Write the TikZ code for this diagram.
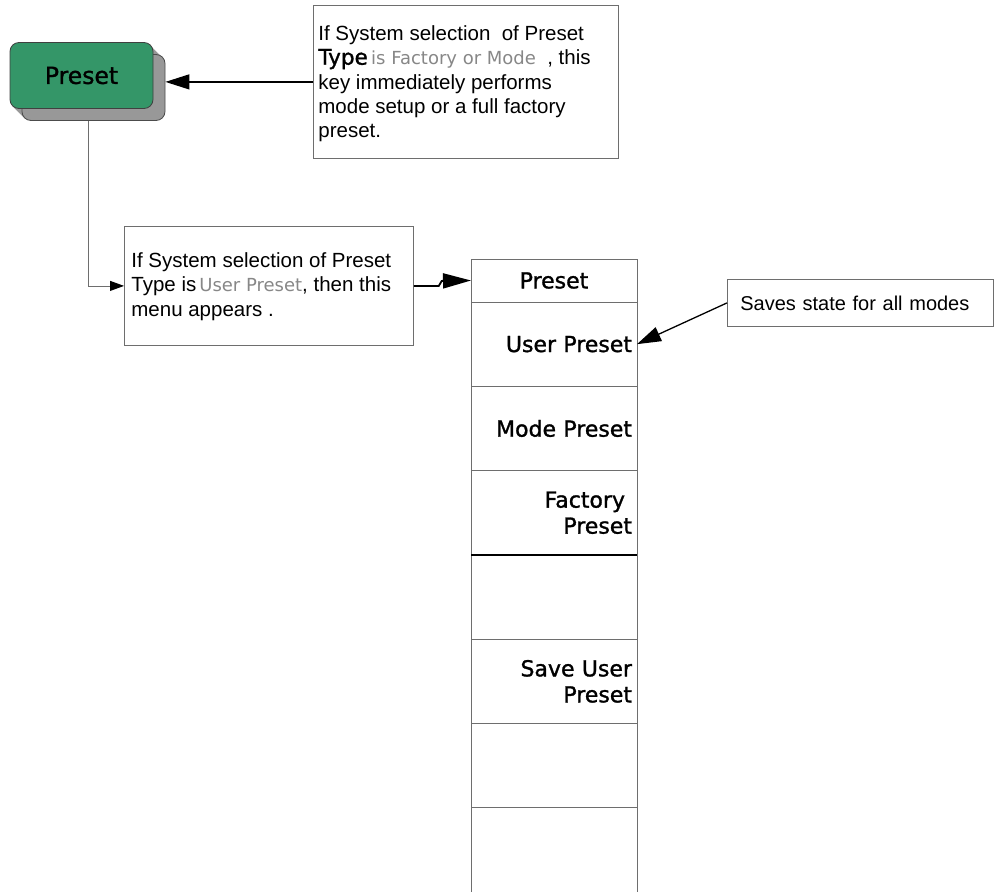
\documentclass[tikz,border=0pt]{standalone}
\usepackage{fontspec}
\setmainfont{Liberation Sans}
\newfontfamily\keyfont[FakeBold=1.3]{DejaVu Sans}
\newfontfamily\thinfont{DejaVu Sans}
\usetikzlibrary{positioning,arrows.meta}
\definecolor{keygreen}{RGB}{52,150,104}
\definecolor{shadowgray}{RGB}{152,152,152}
\definecolor{thingray}{RGB}{135,135,135}
\definecolor{boxgray}{RGB}{110,110,110}
% top aligned text in a box of fixed size
\newcommand{\notetext}[4]{\parbox[c][#2][t]{#1}{\vspace*{#3}\raggedright #4}}
\begin{document}
\begin{tikzpicture}[x=1pt, y=-1pt,
    hardkey/.style={draw=black!75, line width=0.8pt, fill=keygreen, rounded corners=9pt,
        minimum width=143pt, minimum height=66pt, inner sep=0pt,
        font=\keyfont\fontsize{23.5}{26}\selectfont},
    keyshadow/.style={hardkey, fill=shadowgray, draw=black!70},
    note/.style={draw=boxgray, line width=0.8pt, anchor=north west, inner ysep=0pt,
        font=\fontsize{20.5}{24.4}\selectfont},
    menukey/.style={draw=boxgray, line width=0.8pt, minimum width=166pt, minimum height=84.3pt,
        inner xsep=5pt, inner ysep=0pt, outer sep=0pt, text width=156pt, align=right,
        font=\keyfont\fontsize{22}{26}\selectfont},
    menuhead/.style={menukey, minimum height=43pt, align=center},
    pointer/.style={-{Triangle[length=24pt,width=15pt]}, line width=1.3pt}]

    \useasboundingbox (0,0) rectangle (997,892);

    % Preset hardkey with its shadow
    \foreach \d in {1,...,11} {
        \fill[shadowgray, rounded corners=9pt] (10+\d,43+\d) rectangle (153+\d,109+\d);
    }
    \node[keyshadow] (presetshadow) at (93.5,87.5) {};
    \node[hardkey] (presetkey) at (81.5,75.5) {Preset};

    % Notes
    \node[note, inner xsep=5pt] (factorynote) at (313,5) {\notetext{295pt}{153pt}{20pt}{%
        If System selection\ \ of Preset\\
        {\keyfont\fontsize{21.5}{24.4}\selectfont Type}\,{\thinfont\fontsize{18}{24.4}\selectfont\color{thingray}is Factory or Mode}\ \ , this\\
        key immediately performs\\
        mode setup or a full factory\\
        preset.}};
    \node[note, inner xsep=7pt] (usernote) at (124,226) {\notetext{275pt}{119pt}{26pt}{%
        If System selection of Preset\\
        Type is{\thinfont\fontsize{18}{24.4}\selectfont\color{thingray}\,User Preset}, then this\\
        menu appears .}};
    \node[note, inner xsep=13pt, minimum height=47pt, text width=240pt, align=left,
        font=\fontsize{20}{24.4}\selectfont] (savesnote) at (727,279) {Saves state for all modes};

    % Preset menu
    \node[menuhead] (mhead) at (554,280.5) {Preset};
    \node[menukey, below=0pt of mhead] (k1) {User Preset};
    \node[menukey, below=0pt of k1] (k2) {Mode Preset};
    \node[menukey, below=0pt of k2] (k3) {Factory\kern7pt\\Preset};
    \node[menukey, below=0pt of k3] (k4) {};
    \node[menukey, below=0pt of k4] (k5) {Save User\\Preset};
    \node[menukey, below=0pt of k5] (k6) {};
    \node[menukey, below=0pt of k6, minimum height=100pt] (k7) {};
    \draw[line width=1.2pt] (k3.south west) -- (k3.south east);

    % Connectors
    \draw[boxgray, line width=0.8pt, -{Triangle[length=14pt,width=10pt,black]}]
        ([xshift=-5.5pt]presetshadow.south) |- (usernote.west);
    \draw[pointer] (factorynote.west) -- (factorynote.west -| presetshadow.east);
    \draw[pointer, line width=1.8pt, -{Triangle[length=28pt,width=15pt]}]
        (usernote.east) -- ++(25,0) -- ++(3,-5) -- (mhead.west);
    \draw[pointer] (savesnote.west) -- (k1.east);
\end{tikzpicture}
\end{document}
